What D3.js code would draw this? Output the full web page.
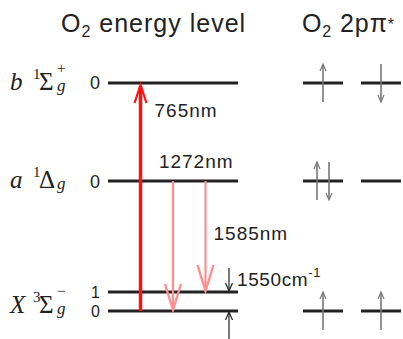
<!DOCTYPE html>
<html>
<head>
<meta charset="utf-8">
<script src="https://cdn.jsdelivr.net/npm/d3@7"></script>
<style>
  body { margin: 0; background: #fff; }
  .sans { font-family: "Liberation Sans", Arial, sans-serif; fill: #222; }
  .serif { font-family: "Liberation Serif", "Times New Roman", serif; fill: #222; }
</style>
</head>
<body>
<svg id="chart"></svg>
<script>
(function() {

// energy levels (diagram units, not to scale), bottom to top
const levelIds = ["X0", "X1", "a", "b"];
const levelPos = [0, 1, 6.84, 12];
const vibLabels = ["0", "1", "0", "0"];

// transitions between levels, slot = position along the level line
const transFrom = ["X0", "a", "a"];
const transTo = ["b", "X0", "X1"];
const transSlot = [1, 2, 3];
const transLabels = ["765nm", "1272nm", "1585nm"];
const transColors = ["#ff1111", "#ff8f8f", "#ff8f8f"];

// 2p pi* orbital occupancy for each electronic state
const orbitalStates = ["b", "a", "X0"];
const orbitalSpins = [
    [["up"], ["down"]],
    [["up", "down"], []],
    [["up"], ["up"]]
];

const width = 403;
const height = 339;

const svg = d3.select("#chart")
    .attr("width", width)
    .attr("height", height);

const x = d3.scaleLinear().domain([0, 4]).range([108, 238]);
const y = d3.scaleLinear().domain([0, 12]).range([311, 83]);
const orbX = d3.scaleLinear().domain([0, 1]).range([323, 381]);

const posOf = id => levelPos[levelIds.indexOf(id)];

// titles
const t1 = svg.append("text").attr("class", "sans")
    .attr("x", 61).attr("y", 32)
    .attr("font-size", 25).attr("letter-spacing", 1.0);
t1.append("tspan").text("O");
t1.append("tspan").attr("font-size", 16).attr("dy", 5).text("2");
t1.append("tspan").attr("dy", -5).text(" energy level");

const t2 = svg.append("text").attr("class", "sans")
    .attr("x", 302).attr("y", 32)
    .attr("font-size", 25).attr("letter-spacing", 0.9);
t2.append("tspan").text("O");
t2.append("tspan").attr("font-size", 16).attr("dy", 5).text("2");
t2.append("tspan").attr("dy", -5).text(" 2pπ");
t2.append("tspan").attr("font-size", 16).attr("dy", -2).text("*");

// level lines
svg.selectAll(".level")
    .data(levelIds)
    .join("line")
    .attr("class", "level")
    .attr("x1", x(0)).attr("x2", x(4))
    .attr("y1", (d, i) => y(levelPos[i]))
    .attr("y2", (d, i) => y(levelPos[i]))
    .attr("stroke", "#222")
    .attr("stroke-width", 3);

// vibrational quantum numbers
svg.selectAll(".vib")
    .data(levelIds)
    .join("text")
    .attr("class", "vib sans")
    .attr("x", 100)
    .attr("y", (d, i) => y(levelPos[i]))
    .attr("dy", "0.36em")
    .attr("text-anchor", "end")
    .attr("font-size", (d, i) => d.startsWith("X") ? 16 : 18)
    .text((d, i) => vibLabels[i]);

// term symbols
function term(letter, mult, sym, sup, baseY) {
    const t = svg.append("text").attr("class", "serif")
        .attr("x", 10).attr("y", baseY).attr("font-size", 25);
    t.append("tspan").attr("font-style", "italic").text(letter);
    t.append("tspan").attr("x", 33).attr("font-size", 15).attr("dy", -11).text(mult);
    t.append("tspan").attr("x", 39).attr("dy", 11).text(sym);
    t.append("tspan").attr("x", 57).attr("font-style", "italic").attr("font-size", 17).attr("dy", 1).text("g");
    if (sup) {
        svg.append("text").attr("class", "serif")
            .attr("x", 57).attr("y", baseY - 17).attr("font-size", 15)
            .text(sup);
    }
}
term("b", "1", "Σ", "+", y(posOf("b")) + 7);
term("a", "1", "Δ", null, y(posOf("a")) + 7);
term("X", "3", "Σ", "−", y(posOf("X0")) + 2);

// arrow helper: chevron head at (x2,y2)
function arrow(g, x1, y1, x2, y2, color, sw, hw, hl, hsw) {
    const dir = Math.sign(y2 - y1);
    g.append("line")
        .attr("x1", x1).attr("y1", y1).attr("x2", x2).attr("y2", y2 - dir * 1)
        .attr("stroke", color).attr("stroke-width", sw);
    g.append("path")
        .attr("d", `M${x2 - hw},${y2 - dir * hl} L${x2},${y2} L${x2 + hw},${y2 - dir * hl}`)
        .attr("fill", "none")
        .attr("stroke", color)
        .attr("stroke-width", hsw || Math.max(1.2, sw * 0.6))
        .attr("stroke-linejoin", "miter");
}

// transitions
const tg = svg.append("g");
transFrom.forEach((from, i) => {
    const xs = x(transSlot[i]);
    const y1 = y(posOf(from));
    const y2 = y(posOf(transTo[i]));
    const up = y2 < y1;
    arrow(tg, xs, y1, xs, up ? y2 + 2 : y2 - 1, transColors[i],
        i === 0 ? 3.5 : 2.2, i === 0 ? 6 : 8, i === 0 ? 18 : 26, i === 0 ? 2.2 : 2.4);
});

// transition labels
svg.append("text").attr("class", "sans").attr("font-size", 19).attr("letter-spacing", 1)
    .attr("x", x(transSlot[0]) + 14).attr("y", y(posOf("b")) + 34)
    .text(transLabels[0]);
svg.append("text").attr("class", "sans").attr("font-size", 19).attr("letter-spacing", 1)
    .attr("x", (x(transSlot[1]) + x(transSlot[2])) / 2 + 7).attr("y", y(posOf("a")) - 13)
    .attr("text-anchor", "middle")
    .text(transLabels[1]);
svg.append("text").attr("class", "sans").attr("font-size", 19).attr("letter-spacing", 1)
    .attr("x", x(transSlot[2]) + 8).attr("y", 240)
    .text(transLabels[2]);

// vibrational spacing marker
const vg = svg.append("g");
arrow(vg, 229, y(posOf("X1")) - 24, 229, y(posOf("X1")) - 1, "#222", 1.2, 3.5, 8);
arrow(vg, 229, height, 229, y(posOf("X0")) + 1, "#222", 1.2, 3.5, 8);
const vt = svg.append("text").attr("class", "sans").attr("font-size", 19).attr("letter-spacing", 0.6)
    .attr("x", 237).attr("y", 286);
vt.append("tspan").text("1550cm");
vt.append("tspan").attr("font-size", 13).attr("dy", -9).text("-1");

// orbitals
orbitalStates.forEach((st, si) => {
    const yy = y(posOf(st));
    const og = svg.append("g");
    orbitalSpins[si].forEach((spins, oi) => {
        const cx = orbX(oi);
        og.append("line")
            .attr("x1", cx - 20).attr("x2", cx + 20)
            .attr("y1", yy).attr("y2", yy)
            .attr("stroke", "#222").attr("stroke-width", 3);
        spins.forEach((s, k) => {
            const sx = spins.length === 2 ? cx + (k === 0 ? -6 : 6) : cx;
            if (s === "up") arrow(og, sx, yy + 19, sx, yy - 19, "#777", 1.6, 3, 7);
            else arrow(og, sx, yy - 19, sx, yy + 19, "#777", 1.6, 3, 7);
        });
    });
});

})();
</script>
</body>
</html>
